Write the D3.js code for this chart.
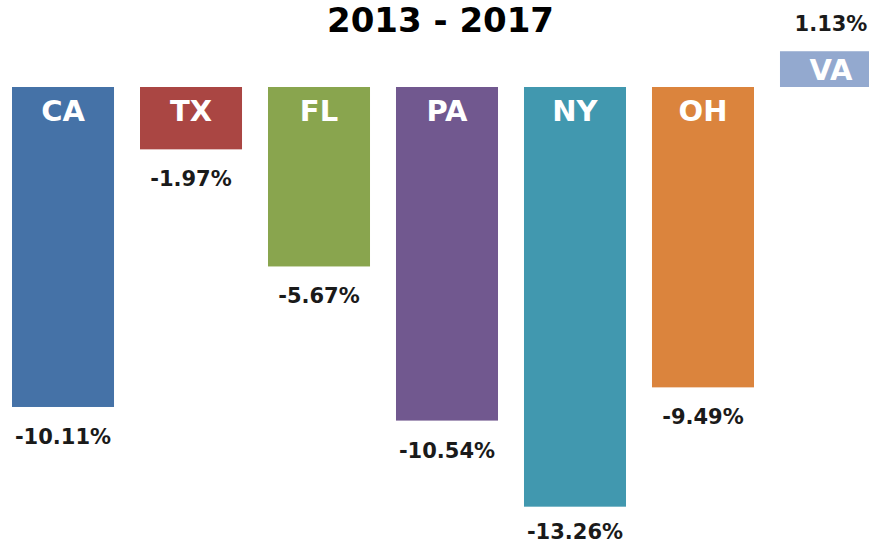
<!DOCTYPE html>
<html>
<head>
<meta charset="utf-8">
<script src="https://cdn.jsdelivr.net/npm/d3@7/dist/d3.min.js"></script>
<style>
  html, body { margin: 0; padding: 0; background: #ffffff; overflow: hidden; }
  svg { display: block; }
  text { font-family: "DejaVu Sans", Verdana, sans-serif; font-weight: bold; }
</style>
</head>
<body>
<svg id="chart" width="869" height="544"></svg>
<script>
const title = "2013 - 2017";
const states = ["CA", "TX", "FL", "PA", "NY", "OH", "VA"];
const changes = [-10.11, -1.97, -5.67, -10.54, -13.26, -9.49, 1.13];
const colors = ["#4572A7", "#AA4643", "#89A54E", "#71588F", "#4198AF", "#DB843D", "#93A9CF"];

const data = states.map((s, i) => ({ state: s, value: changes[i], color: colors[i] }));

const svg = d3.select("#chart");
const W = 869, H = 544;

const x = d3.scaleBand()
  .domain(states)
  .range([-1, 895])
  .paddingInner(0.203)
  .paddingOuter(0.1016);

const y = d3.scaleLinear()
  .domain([-14, 2])
  .range([530.1, 23.7]);

const fmt = v => v.toFixed(2) + "%";

// title
svg.append("text")
  .attr("x", 440.5)
  .attr("y", 32)
  .attr("text-anchor", "middle")
  .attr("font-size", 34)
  .attr("fill", "#000")
  .text(title);

const g = svg.append("g");

g.selectAll("rect.bar")
  .data(data)
  .join("rect")
  .attr("class", "bar")
  .attr("x", d => x(d.state))
  .attr("width", x.bandwidth())
  .attr("y", d => y(Math.max(0, d.value)))
  .attr("height", d => Math.abs(y(d.value) - y(0)))
  .attr("fill", d => d.color);

// category labels inside bars
g.selectAll("text.cat")
  .data(data)
  .join("text")
  .attr("class", "cat")
  .attr("x", d => x(d.state) + x.bandwidth() / 2)
  .attr("y", d => d.value < 0 ? y(0) + 34 : (y(d.value) + y(0)) / 2 + 11)
  .attr("text-anchor", "middle")
  .attr("font-size", 29)
  .attr("fill", "#ffffff")
  .text(d => d.state);

// value labels
g.selectAll("text.val")
  .data(data)
  .join("text")
  .attr("class", "val")
  .attr("x", d => x(d.state) + x.bandwidth() / 2)
  .attr("y", d => d.value < 0 ? Math.min(y(d.value) + 37, H - 5) : y(d.value) - 20)
  .attr("text-anchor", "middle")
  .attr("font-size", 21)
  .attr("fill", "#1a1a1a")
  .text(d => fmt(d.value));
</script>
</body>
</html>
